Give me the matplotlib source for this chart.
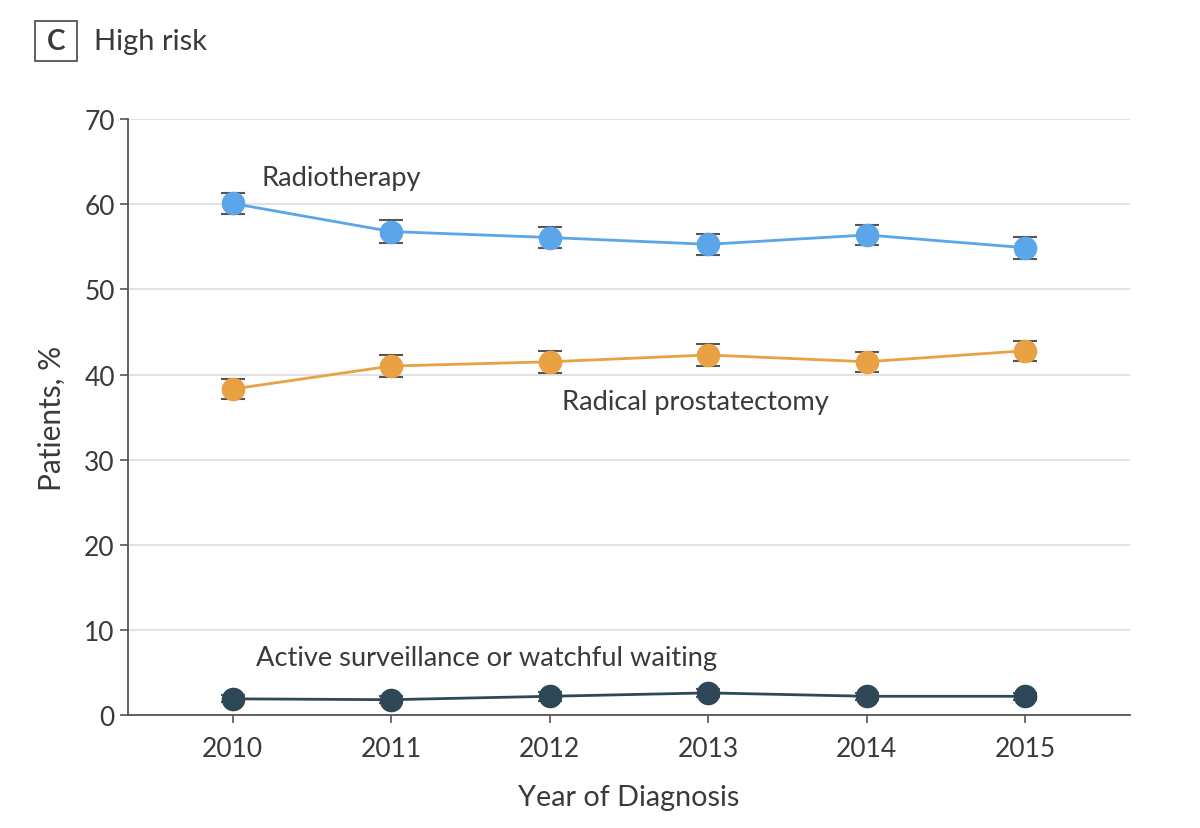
import matplotlib.pyplot as plt
from matplotlib.patches import Rectangle

plt.rcParams['font.family'] = ['Lato', 'DejaVu Sans']

years = [2010, 2011, 2012, 2013, 2014, 2015]
radiotherapy = [60.1, 56.8, 56.1, 55.3, 56.4, 54.9]
radio_err = [1.2, 1.3, 1.2, 1.2, 1.2, 1.3]
prostatectomy = [38.3, 41.0, 41.5, 42.3, 41.5, 42.8]
prost_err = [1.2, 1.3, 1.3, 1.3, 1.2, 1.2]
surveillance = [1.9, 1.8, 2.2, 2.6, 2.2, 2.2]
surv_err = [0.4, 0.4, 0.5, 0.5, 0.4, 0.4]
yticks = [0, 10, 20, 30, 40, 50, 60, 70]

text_col = '#3a3a3a'
fig = plt.figure(figsize=(12, 8.29), dpi=100)
ax = fig.add_axes([0.1067, 0.1363, 0.835, 0.7187])

series = [
    (radiotherapy, radio_err, '#5aa6e8', 'Radiotherapy', (2010.18, 63.2)),
    (prostatectomy, prost_err, '#e8a243', 'Radical prostatectomy', (2012.08, 36.8)),
    (surveillance, surv_err, '#2f4858', 'Active surveillance or watchful waiting', (2010.15, 6.8)),
]
for vals, err, col, name, pos in series:
    ax.errorbar(years, vals, yerr=err, fmt='none', ecolor='#555555',
                elinewidth=1.2, capsize=8.5, capthick=1.5, zorder=2)
    ax.plot(years, vals, color=col, lw=2, marker='o', ms=17,
            markeredgewidth=0, zorder=3)
    ax.text(pos[0], pos[1], name, fontsize=19.6, color=text_col,
            ha='left', va='center')

ax.set_xlim(2009.34, 2015.66)
ax.set_ylim(0, 70)
ax.set_yticks(yticks)
ax.set_xticks(years)
ax.yaxis.grid(True, color='#dddddd', lw=1.2)
ax.set_axisbelow(True)
for s in ['top', 'right']:
    ax.spines[s].set_visible(False)
for s in ['left', 'bottom']:
    ax.spines[s].set_color('#555555')
    ax.spines[s].set_linewidth(1.3)
ax.tick_params(axis='both', colors='#555555', labelcolor=text_col,
               labelsize=19, length=6, width=1.2)
ax.tick_params(axis='x', pad=9)
ax.set_xlabel('Year of Diagnosis', fontsize=20.7, color=text_col, labelpad=17)
ax.set_ylabel('Patients, %', fontsize=21.5, color=text_col, labelpad=13)

fig.patches.append(Rectangle((35 / 1200, 1 - 62 / 829), 42 / 1200, 40 / 829,
                             transform=fig.transFigure, fill=False,
                             edgecolor='#555555', lw=1.3))
fig.text(56 / 1200, 1 - 42 / 829, 'C', fontsize=20, fontweight='bold',
         color=text_col, ha='center', va='center')
fig.text(94 / 1200, 1 - 42 / 829, 'High risk', fontsize=21,
         color=text_col, ha='left', va='center')

fig.savefig('out.png', dpi=100)
